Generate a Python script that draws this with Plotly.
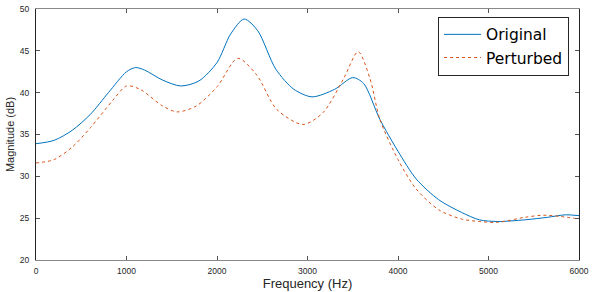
import plotly.graph_objects as go

freq_orig = [0, 200, 400, 600, 800, 1000, 1100, 1200, 1400, 1600, 1800, 2000, 2150, 2300, 2450,
             2650, 2850, 3050, 3300, 3500, 3620, 3800, 4000, 4200, 4450, 4700, 4900, 5100, 5400,
             5650, 5850, 6000]
mag_orig = [33.9, 34.3, 35.5, 37.4, 40.0, 42.5, 43.0, 42.7, 41.5, 40.8, 41.4, 43.6, 47.0, 48.8, 47.4,
            42.8, 40.4, 39.5, 40.4, 41.8, 41.1, 36.8, 33.0, 29.7, 27.2, 25.7, 24.8, 24.6, 24.8,
            25.1, 25.4, 25.3]

freq_pert = [0, 200, 400, 600, 850, 1000, 1150, 1400, 1560, 1770, 2000, 2230, 2440, 2660, 2950,
             3170, 3400, 3560, 3690, 3800, 4000, 4200, 4450, 4700, 4900, 5100, 5400, 5600, 5800, 6000]
mag_pert = [31.6, 32.0, 33.5, 35.8, 39.1, 40.8, 40.4, 38.4, 37.7, 38.4, 40.7, 44.1, 42.1, 38.0, 36.2,
            37.6, 41.7, 44.9, 41.7, 36.8, 32.0, 28.5, 26.0, 24.9, 24.6, 24.5, 25.1, 25.35, 25.2, 24.9]

x_ticks = [0, 1000, 2000, 3000, 4000, 5000, 6000]
y_ticks = [20, 25, 30, 35, 40, 45, 50]

fig = go.Figure()
fig.add_trace(go.Scatter(x=freq_orig, y=mag_orig, mode="lines", name="Original",
                         line=dict(color="#0072BD", width=1, shape="spline", smoothing=0.8)))
fig.add_trace(go.Scatter(x=freq_pert, y=mag_pert, mode="lines", name="Perturbed",
                         line=dict(color="#D95319", width=1, dash="dot", shape="spline", smoothing=0.8)))

FONT = "Liberation Sans, Arial, sans-serif"
fig.update_layout(
    width=594, height=292,
    margin=dict(l=36, r=15, t=4, b=32),
    paper_bgcolor="white", plot_bgcolor="white",
    font=dict(family=FONT, size=8.5, color="#262626"),
    showlegend=True,
    legend=dict(x=0.9816, y=0.969, xanchor="right", yanchor="top",
                bordercolor="#262626", borderwidth=1, bgcolor="white",
                font=dict(family="DejaVu Sans, sans-serif", size=15.5, color="#000000"),
                itemwidth=37, tracegroupgap=0),
    xaxis=dict(range=[0, 6000], tickvals=x_ticks, ticks="inside", ticklen=4,
               tickcolor="#555555", showline=True, linecolor="#888888", linewidth=1,
               mirror="ticks", showgrid=False, zeroline=False,
               ticklabeloverflow="allow", ticklabelstandoff=3,
               title=dict(text="Frequency (Hz)", font=dict(family=FONT, size=13, color="#262626"),
                          standoff=3)),
    yaxis=dict(range=[20, 50], tickvals=y_ticks, ticks="inside", ticklen=4,
               tickcolor="#555555", showline=True, linecolor="#262626", linewidth=1,
               mirror="ticks", showgrid=False, zeroline=False,
               ticklabeloverflow="allow", ticklabelstandoff=4,
               title=dict(text="Magnitude (dB)", font=dict(family=FONT, size=11, color="#262626"),
                          standoff=2)),
)

fig.write_html("out.html", config={"displayModeBar": False},
               post_script="document.body.style.margin='0';document.body.style.padding='0';")
